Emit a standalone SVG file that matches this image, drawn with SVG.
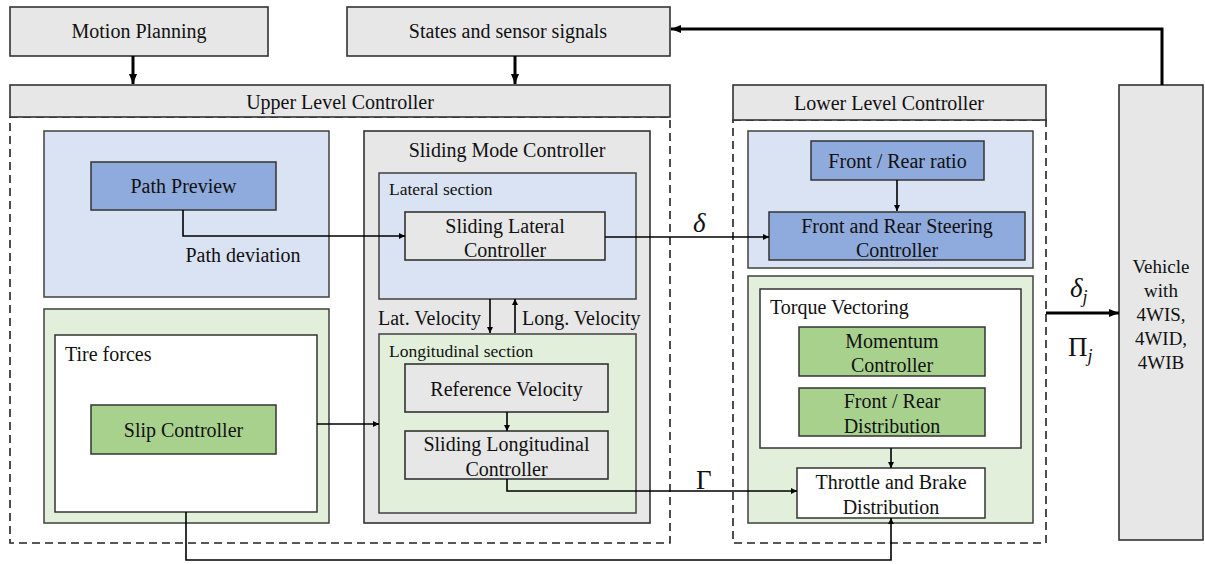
<svg xmlns="http://www.w3.org/2000/svg" width="1205" height="564" viewBox="0 0 1205 564" font-family="'Liberation Serif', 'DejaVu Serif', serif">
<defs>
<style>
text{font-family:'Liberation Serif','DejaVu Serif',serif;fill:#111;}
.t{font-size:20px;text-anchor:middle;}
.l{font-size:20px;}
.s{font-size:17.5px;}
.gray{fill:#e7e7e7;stroke:#333;stroke-width:1.6;}
.bluep{fill:#dae3f3;stroke:#404040;stroke-width:1.5;}
.blueb{fill:#8faadc;stroke:#333;stroke-width:1.5;}
.greenp{fill:#e2efda;stroke:#404040;stroke-width:1.5;}
.greenb{fill:#a9d18e;stroke:#333;stroke-width:1.5;}
.white{fill:#fff;stroke:#333;stroke-width:1.5;}
.dash{fill:none;stroke:#222;stroke-width:1.6;stroke-dasharray:8,5;}
.c{fill:none;stroke:#000;stroke-width:1.6;}
.ct{fill:none;stroke:#000;stroke-width:3;}
.m{font-style:italic;font-size:27px;}
</style>
<marker id="a" viewBox="0 0 10 10" refX="10" refY="5" markerWidth="6" markerHeight="6" orient="auto" markerUnits="userSpaceOnUse"><path d="M0,0L10,5L0,10z" fill="#000"/></marker>
<marker id="ab" viewBox="0 0 10 10" refX="10" refY="5" markerWidth="10" markerHeight="10" orient="auto" markerUnits="userSpaceOnUse"><path d="M0,1L10,5L0,9z" fill="#000"/></marker>
</defs>

<g id="upper-frame">
<rect x="10" y="117" width="660" height="426" class="dash"/>
</g>
<g id="lower-frame">
<rect x="733" y="120" width="313" height="423" class="dash"/>
</g>

<g id="motion-planning"><rect x="10" y="7" width="258" height="49" class="gray"/><text x="139" y="38" class="t">Motion Planning</text></g>
<g id="states"><rect x="347" y="7" width="323" height="49" class="gray"/><text x="508" y="38" class="t">States and sensor signals</text></g>
<g id="upper-level"><rect x="10" y="85" width="660" height="32" class="gray"/><text x="340" y="109" class="t">Upper Level Controller</text></g>
<g id="lower-level"><rect x="733" y="85" width="313" height="35" class="gray"/><text x="889" y="110" class="t">Lower Level Controller</text></g>

<g id="path-panel"><rect x="44" y="131" width="285" height="166" class="bluep"/><text x="243" y="262" class="t">Path deviation</text></g>
<g id="path-preview"><rect x="91" y="162" width="185" height="48" class="blueb"/><text x="183.5" y="193" class="t">Path Preview</text></g>

<g id="tire-panel"><rect x="44" y="309" width="285" height="214" class="greenp"/></g>
<g id="tire-forces"><rect x="55" y="335" width="262" height="177" class="white"/><text x="65" y="361" class="l">Tire forces</text></g>
<g id="slip-controller"><rect x="91" y="405" width="185" height="49" class="greenb"/><text x="183.5" y="437" class="t">Slip Controller</text></g>

<g id="smc"><rect x="364" y="131" width="286" height="392" class="gray"/><text x="507" y="157" class="t">Sliding Mode Controller</text>
<text x="378" y="325" class="l">Lat. Velocity</text><text x="522" y="325" class="l">Long. Velocity</text></g>
<g id="lateral-section"><rect x="379" y="173" width="257" height="126" class="bluep"/><text x="389" y="195" class="s">Lateral section</text></g>
<g id="sliding-lateral"><rect x="405" y="212" width="200" height="48" class="gray"/><text x="505" y="233" class="t">Sliding Lateral</text><text x="505" y="257" class="t">Controller</text></g>
<g id="longitudinal-section"><rect x="379" y="334" width="257" height="179" class="greenp"/><text x="389" y="357" class="s">Longitudinal section</text></g>
<g id="reference-velocity"><rect x="405" y="364" width="203" height="48" class="gray"/><text x="506.5" y="396" class="t">Reference Velocity</text></g>
<g id="sliding-longitudinal"><rect x="405" y="431" width="203" height="48" class="gray"/><text x="506.5" y="451" class="t">Sliding Longitudinal</text><text x="506.5" y="476" class="t">Controller</text></g>

<g id="steering-panel"><rect x="748" y="131" width="285" height="137" class="bluep"/></g>
<g id="front-rear-ratio"><rect x="811" y="141" width="173" height="39" class="blueb"/><text x="897.5" y="168" class="t">Front / Rear ratio</text></g>
<g id="steering-controller"><rect x="769" y="212" width="256" height="48" class="blueb"/><text x="897" y="233" class="t">Front and Rear Steering</text><text x="897" y="257" class="t">Controller</text></g>

<g id="torque-panel"><rect x="748" y="276" width="285" height="247" class="greenp"/></g>
<g id="torque-vectoring"><rect x="760" y="289" width="261" height="159" class="white"/><text x="770" y="314" class="l">Torque Vectoring</text></g>
<g id="momentum"><rect x="799" y="327" width="186" height="49" class="greenb"/><text x="892" y="348" class="t">Momentum</text><text x="892" y="372" class="t">Controller</text></g>
<g id="fr-distribution"><rect x="799" y="388" width="186" height="48" class="greenb"/><text x="892" y="408" class="t">Front / Rear</text><text x="892" y="433" class="t">Distribution</text></g>
<g id="throttle-brake"><rect x="797" y="468" width="188" height="50" class="white"/><text x="891" y="489" class="t">Throttle and Brake</text><text x="891" y="514" class="t">Distribution</text></g>

<g id="vehicle"><rect x="1119" y="85" width="84" height="455" class="gray"/>
<g style="font-size:19px;text-anchor:middle"><text x="1161" y="273">Vehicle</text><text x="1161" y="297">with</text><text x="1161" y="321">4WIS,</text><text x="1161" y="345">4WID,</text><text x="1161" y="369">4WIB</text></g></g>

<g id="connectors">
<path d="M133,56V84" class="ct" marker-end="url(#ab)"/>
<path d="M515,56V84" class="ct" marker-end="url(#ab)"/>
<path d="M1162,85V29H671" class="ct" marker-end="url(#ab)"/>
<path d="M183,210V236H405" class="c" marker-end="url(#a)"/>
<path d="M605,237H769" class="c" marker-end="url(#a)"/>
<path d="M317,424H379" class="c" marker-end="url(#a)"/>
<path d="M490,299V333" class="c" marker-end="url(#a)"/>
<path d="M515,333V299" class="c" marker-end="url(#a)"/>
<path d="M507,412V431" class="c" marker-end="url(#a)"/>
<path d="M507,479V491H797" class="c" marker-end="url(#a)"/>
<path d="M897,180V211" class="c" marker-end="url(#a)"/>
<path d="M891,448V468" class="c" marker-end="url(#a)"/>
<path d="M186,512V560H891V518" class="c" marker-end="url(#a)"/>
<path d="M1046,313H1119" class="ct" marker-end="url(#ab)"/>
<text x="693" y="232" class="m">δ</text>
<text x="696" y="489" style="font-size:27px">Γ</text>
<text x="1070" y="297" class="m">δ<tspan font-size="18" dy="6">j</tspan></text>
<text x="1068" y="356" style="font-size:27px">Π<tspan font-size="18" dy="6" font-style="italic">j</tspan></text>
</g>
</svg>
